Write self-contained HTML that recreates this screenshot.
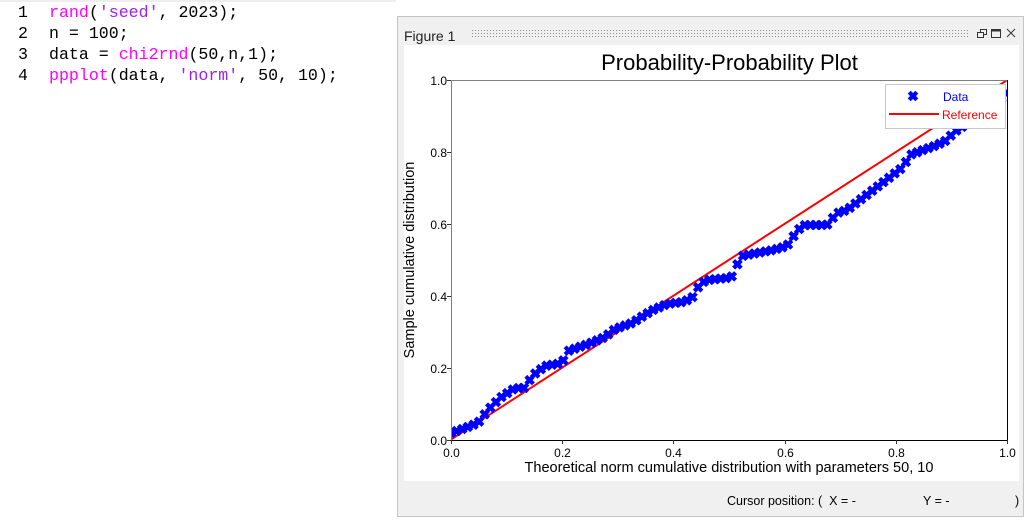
<!DOCTYPE html>
<html><head><meta charset="utf-8"><style>
html,body{margin:0;padding:0;background:#fff;width:1031px;height:520px;overflow:hidden}
svg{display:block}
text{font-family:"Liberation Sans",Arial,sans-serif}
.code text{font-family:"Liberation Mono","Courier New",monospace;font-size:16.6px;white-space:pre}
</style></head><body>
<svg width="1031" height="520" viewBox="0 0 1031 520" xmlns="http://www.w3.org/2000/svg">
<defs>
<clipPath id="ax"><rect x="451" y="80" width="557" height="360"/></clipPath>
<path id="m" d="M-3.8,-3.8L3.8,3.8M-3.8,3.8L3.8,-3.8" stroke="#0000ff" stroke-width="4.2" fill="none"/>
</defs>
<rect x="0" y="0" width="1031" height="520" fill="#fff"/>
<rect x="0" y="0" width="396" height="2" fill="#eeeeee"/>

<!-- code -->
<g class="code">
<text x="18" y="17" fill="#000">1</text>
<text x="18" y="38" fill="#000">2</text>
<text x="18" y="59" fill="#000">3</text>
<text x="18" y="80" fill="#000">4</text>
<text x="49" y="17"><tspan fill="#ff00ff">rand</tspan><tspan fill="#000">(</tspan><tspan fill="#a020f0">'seed'</tspan><tspan fill="#000">, 2023);</tspan></text>
<text x="49" y="38" fill="#000">n = 100;</text>
<text x="49" y="59"><tspan fill="#000">data = </tspan><tspan fill="#ff00ff">chi2rnd</tspan><tspan fill="#000">(50,n,1);</tspan></text>
<text x="49" y="80"><tspan fill="#ff00ff">ppplot</tspan><tspan fill="#000">(data, </tspan><tspan fill="#a020f0">'norm'</tspan><tspan fill="#000">, 50, 10);</tspan></text>
</g>

<!-- figure window -->
<rect x="397.5" y="16.5" width="626" height="500" fill="#f0f0f0" stroke="#c4c4c4" stroke-width="1"/>
<text x="404" y="41" font-size="14" fill="#222">Figure 1</text>
<g stroke="#8c8c8c" stroke-width="1" stroke-dasharray="1 2">
<line x1="472" y1="30.5" x2="970" y2="30.5"/>
<line x1="472" y1="33.5" x2="970" y2="33.5"/>
<line x1="472" y1="36.5" x2="970" y2="36.5"/>
</g>
<!-- window icons -->
<g stroke="#333" stroke-width="1" fill="none">
<rect x="977.5" y="32.5" width="6" height="5"/>
<path d="M980.5,32.5V29.5H986.5V34.5H983.5"/>
<rect x="991.5" y="29.5" width="9" height="8"/>
<line x1="991.5" y1="30.5" x2="1000.5" y2="30.5" stroke-width="2"/>
<path d="M1007,29L1015,37M1007,37L1015,29"/>
</g>

<!-- white panel -->
<rect x="404" y="45" width="615" height="436" fill="#fff"/>

<!-- title -->
<text x="729.5" y="70" font-size="22" text-anchor="middle" fill="#000">Probability-Probability Plot</text>

<!-- reference line & data -->
<g clip-path="url(#ax)">
<line x1="451" y1="439.5" x2="1008" y2="79.5" stroke="#ff0000" stroke-width="2"/>
<g>
<use href="#m" x="451" y="433"/><use href="#m" x="456.6" y="431"/><use href="#m" x="462.2" y="429"/><use href="#m" x="467.8" y="426.9"/><use href="#m" x="473.5" y="424.7"/>
<use href="#m" x="479.1" y="421.6"/><use href="#m" x="484.7" y="414.3"/><use href="#m" x="490.3" y="407.7"/><use href="#m" x="495.9" y="402.1"/><use href="#m" x="501.5" y="397"/>
<use href="#m" x="507.2" y="393.2"/><use href="#m" x="512.8" y="389.5"/><use href="#m" x="518.4" y="388"/><use href="#m" x="524" y="388"/><use href="#m" x="529.6" y="380.1"/>
<use href="#m" x="535.2" y="373.5"/><use href="#m" x="540.9" y="369.2"/><use href="#m" x="546.5" y="365.7"/><use href="#m" x="552.1" y="364.7"/><use href="#m" x="557.7" y="363.8"/>
<use href="#m" x="563.3" y="360.4"/><use href="#m" x="568.9" y="350.7"/><use href="#m" x="574.6" y="348.7"/><use href="#m" x="580.2" y="346.7"/><use href="#m" x="585.8" y="344.8"/>
<use href="#m" x="591.4" y="342.6"/><use href="#m" x="597" y="340.3"/><use href="#m" x="602.6" y="338"/><use href="#m" x="608.2" y="334.4"/><use href="#m" x="613.9" y="329.9"/>
<use href="#m" x="619.5" y="327.4"/><use href="#m" x="625.1" y="325.4"/><use href="#m" x="630.7" y="323.5"/><use href="#m" x="636.3" y="320.3"/><use href="#m" x="641.9" y="316.7"/>
<use href="#m" x="647.6" y="313.2"/><use href="#m" x="653.2" y="309.9"/><use href="#m" x="658.8" y="307.5"/><use href="#m" x="664.4" y="305.1"/><use href="#m" x="670" y="303.6"/>
<use href="#m" x="675.6" y="302.9"/><use href="#m" x="681.3" y="302.2"/><use href="#m" x="686.9" y="300.3"/><use href="#m" x="692.5" y="297.1"/><use href="#m" x="698.1" y="287.3"/>
<use href="#m" x="703.7" y="281.9"/><use href="#m" x="709.4" y="279.8"/><use href="#m" x="715" y="279.2"/><use href="#m" x="720.6" y="278.6"/><use href="#m" x="726.2" y="278.1"/>
<use href="#m" x="731.8" y="276.4"/><use href="#m" x="737.4" y="264.3"/><use href="#m" x="743" y="255.8"/><use href="#m" x="748.7" y="254.7"/><use href="#m" x="754.3" y="253.5"/>
<use href="#m" x="759.9" y="252.5"/><use href="#m" x="765.5" y="251.4"/><use href="#m" x="771.1" y="250.4"/><use href="#m" x="776.7" y="248.9"/><use href="#m" x="782.4" y="247.3"/>
<use href="#m" x="788" y="244.5"/><use href="#m" x="793.6" y="236.2"/><use href="#m" x="799.2" y="229"/><use href="#m" x="804.8" y="225.1"/><use href="#m" x="810.4" y="225"/>
<use href="#m" x="816" y="225"/><use href="#m" x="821.7" y="225"/><use href="#m" x="827.3" y="224.6"/><use href="#m" x="832.9" y="217.9"/><use href="#m" x="838.5" y="212.6"/>
<use href="#m" x="844.1" y="210.9"/><use href="#m" x="849.8" y="207.8"/><use href="#m" x="855.4" y="203.5"/><use href="#m" x="861" y="199.2"/><use href="#m" x="866.6" y="195"/>
<use href="#m" x="872.2" y="190.7"/><use href="#m" x="877.8" y="186.4"/><use href="#m" x="883.4" y="182.1"/><use href="#m" x="889" y="177.8"/><use href="#m" x="894.7" y="173.4"/>
<use href="#m" x="900.3" y="169.1"/><use href="#m" x="905.9" y="162"/><use href="#m" x="911.5" y="154.4"/><use href="#m" x="917.1" y="152.3"/><use href="#m" x="922.7" y="150.1"/>
<use href="#m" x="928.4" y="148.1"/><use href="#m" x="934" y="146.1"/><use href="#m" x="939.6" y="143.7"/><use href="#m" x="945.2" y="140.9"/><use href="#m" x="950.8" y="135.6"/>
<use href="#m" x="956.4" y="130.6"/><use href="#m" x="962.1" y="126.9"/><use href="#m" x="967.7" y="124"/><use href="#m" x="973.3" y="121.1"/><use href="#m" x="978.9" y="118.2"/>
<use href="#m" x="984.5" y="115.3"/><use href="#m" x="990.1" y="109.9"/><use href="#m" x="995.8" y="104.2"/><use href="#m" x="1001.4" y="98.6"/><use href="#m" x="1007" y="93"/>
</g>
</g>

<!-- axes -->
<line x1="451.5" y1="80.5" x2="1007.5" y2="80.5" stroke="#808080" stroke-width="1"/>
<line x1="451.5" y1="80.5" x2="451.5" y2="440.5" stroke="#808080" stroke-width="1"/>
<line x1="451" y1="440.5" x2="1008" y2="440.5" stroke="#000" stroke-width="1"/>
<line x1="1007.5" y1="80" x2="1007.5" y2="441" stroke="#000" stroke-width="1"/>

<!-- ticks -->
<g stroke="#333" stroke-width="1">
<line x1="447" y1="80.5" x2="451" y2="80.5"/>
<line x1="447" y1="152.5" x2="451" y2="152.5"/>
<line x1="447" y1="224.5" x2="451" y2="224.5"/>
<line x1="447" y1="296.5" x2="451" y2="296.5"/>
<line x1="447" y1="368.5" x2="451" y2="368.5"/>
<line x1="447" y1="440.5" x2="451" y2="440.5"/>
<line x1="451.5" y1="440" x2="451.5" y2="444"/>
<line x1="562.5" y1="440" x2="562.5" y2="444"/>
<line x1="673.5" y1="440" x2="673.5" y2="444"/>
<line x1="785.5" y1="440" x2="785.5" y2="444"/>
<line x1="896.5" y1="440" x2="896.5" y2="444"/>
<line x1="1007.5" y1="440" x2="1007.5" y2="444"/>
</g>
<g font-size="12" fill="#000" text-anchor="end">
<text x="447" y="85">1.0</text>
<text x="447" y="157">0.8</text>
<text x="447" y="229">0.6</text>
<text x="447" y="301">0.4</text>
<text x="447" y="373">0.2</text>
<text x="447" y="445">0.0</text>
</g>
<g font-size="12" fill="#000" text-anchor="middle">
<text x="451.5" y="457">0.0</text>
<text x="562.5" y="457">0.2</text>
<text x="673.5" y="457">0.4</text>
<text x="785.5" y="457">0.6</text>
<text x="896.5" y="457">0.8</text>
<text x="1007.5" y="457">1.0</text>
</g>

<!-- axis labels -->
<text x="729" y="472" font-size="14.5" text-anchor="middle" fill="#000" textLength="409" lengthAdjust="spacingAndGlyphs">Theoretical norm cumulative distribution with parameters 50, 10</text>
<text transform="translate(414,260) rotate(-90)" x="0" y="0" font-size="14.5" text-anchor="middle" fill="#000">Sample cumulative distribution</text>

<!-- legend -->
<rect x="885.5" y="84.5" width="120" height="44" fill="#fff" stroke="#c8c8c8" stroke-width="1"/>
<use href="#m" x="913" y="96"/>
<text x="943" y="101" font-size="12" fill="#0000ff">Data</text>
<line x1="889" y1="114" x2="939" y2="114" stroke="#ff0000" stroke-width="2"/>
<text x="942" y="119" font-size="12" fill="#ff0000">Reference</text>

<!-- status bar -->
<text x="727" y="505" font-size="12.5" fill="#000" style="white-space:pre">Cursor position: (  X = -</text>
<text x="923" y="505" font-size="12.5" fill="#000" style="white-space:pre">Y = -</text>
<text x="1015" y="505" font-size="12.5" fill="#000">)</text>
</svg>
</body></html>
